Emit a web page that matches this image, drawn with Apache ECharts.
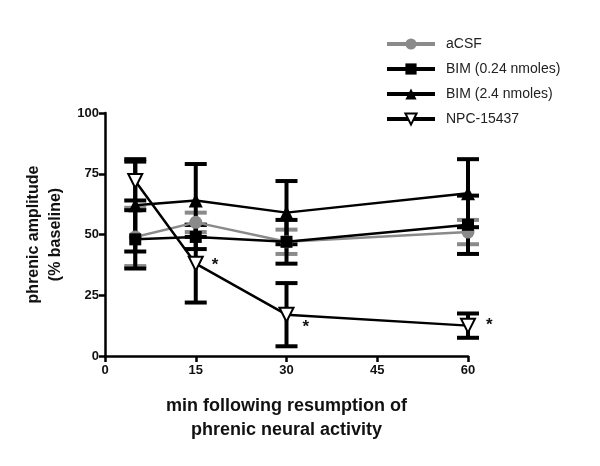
<!DOCTYPE html>
<html>
<head>
<meta charset="utf-8">
<script src="https://cdn.jsdelivr.net/npm/echarts@6/dist/echarts.min.js"></script>
<style>
  html, body { margin: 0; padding: 0; background: #fff; }
  #chart { width: 600px; height: 466px; }
</style>
</head>
<body>
<div id="chart"></div>
<script>
// time points (min)
var times = [5, 15, 30, 60];
var xTicks = [0, 15, 30, 45, 60];
// means and SEM per group
var acsf = [49, 55, 47, 51];
var acsfErr = [12, 4, 5, 5];
var bim024 = [48, 49, 47, 54];
var bim024Err = [12, 5, 9, 12];
var bim24 = [62, 64, 59, 67];
var bim24Err = [19, 15, 13, 14];
var npc = [72, 38, 17, 12.5];
var npcErr = [8, 16, 13, 5];
// which npc points are significant
var npcStar = [false, true, true, true];
var arrowAt = 7; // drug given here

var FONT = 'Liberation Sans, Arial, sans-serif';
var chart = echarts.init(document.getElementById('chart'));

var pairs = function(vals) {
  var out = [];
  for (var i = 0; i < times.length; i++) out.push([times[i], vals[i]]);
  return out;
};

// error bars as custom series
var errSeries = function(vals, errs, color) {
  var data = [];
  for (var i = 0; i < times.length; i++) {
    data.push([times[i], vals[i] - errs[i], vals[i] + errs[i]]);
  }
  return {
    type: 'custom',
    silent: true,
    z: 1,
    data: data,
    renderItem: function(params, api) {
      var lo = api.coord([api.value(0), api.value(1)]);
      var hi = api.coord([api.value(0), api.value(2)]);
      var half = 11;
      var style = { stroke: color, lineWidth: 4 };
      return {
        type: 'group',
        children: [
          { type: 'line', shape: { x1: lo[0], y1: lo[1], x2: hi[0], y2: hi[1] }, style: style },
          { type: 'line', shape: { x1: lo[0] - half, y1: lo[1], x2: lo[0] + half, y2: lo[1] }, style: style },
          { type: 'line', shape: { x1: hi[0] - half, y1: hi[1], x2: hi[0] + half, y2: hi[1] }, style: style }
        ]
      };
    }
  };
};

var npcData = [];
for (var i = 0; i < times.length; i++) {
  var item = { value: [times[i], npc[i]] };
  if (npcStar[i]) {
    item.label = {
      show: true, formatter: '*', position: 'right', distance: 8,
      offset: [i === 3 ? 2 : 0, i === 2 ? 13 : (i === 3 ? 0 : 2)],
      fontSize: 17, fontWeight: 'bold', color: '#111', fontFamily: FONT
    };
  }
  npcData.push(item);
}

var option = {
  backgroundColor: '#fff',
  animation: false,
  grid: { left: 105, right: 132, top: 113, bottom: 110 },
  legend: {
    orient: 'vertical',
    left: 380,
    top: 32,
    itemWidth: 48,
    itemHeight: 14,
    itemGap: 11,
    data: ['aCSF', 'BIM (0.24 nmoles)', 'BIM (2.4 nmoles)', 'NPC-15437'],
    lineStyle: { width: 4 },
    textStyle: { fontSize: 14, color: '#222', fontFamily: FONT, padding: [0, 0, 0, 6] }
  },
  xAxis: {
    type: 'value',
    min: 0, max: 60, interval: 15,
    name: 'min following resumption of\nphrenic neural activity',
    nameLocation: 'middle',
    nameGap: 38,
    nameTextStyle: { fontSize: 18, fontWeight: 'bold', color: '#111', fontFamily: FONT, lineHeight: 24 },
    axisLine: { lineStyle: { color: '#000', width: 2.5 } },
    axisTick: { length: 6, lineStyle: { color: '#000', width: 2.5 } },
    axisLabel: {
      fontSize: 13, fontWeight: 'bold', color: '#111', fontFamily: FONT, margin: 8,
      formatter: function(v) { return xTicks.indexOf(v) >= 0 ? String(v) : ''; }
    },
    splitLine: { show: false }
  },
  yAxis: {
    type: 'value',
    min: 0, max: 100, interval: 25,
    name: 'phrenic amplitude\n(% baseline)',
    nameLocation: 'middle',
    nameGap: 38,
    nameTextStyle: { fontSize: 16, fontWeight: 'bold', color: '#111', fontFamily: FONT, lineHeight: 22 },
    axisLine: { show: true, lineStyle: { color: '#000', width: 2.5 } },
    axisTick: { show: true, length: 6, lineStyle: { color: '#000', width: 2.5 } },
    axisLabel: { fontSize: 13, fontWeight: 'bold', color: '#111', fontFamily: FONT, margin: 6 },
    splitLine: { show: false }
  },
  series: [
    errSeries(acsf, acsfErr, '#8a8a8a'),
    errSeries(bim024, bim024Err, '#000'),
    errSeries(bim24, bim24Err, '#000'),
    errSeries(npc, npcErr, '#000'),
    {
      name: 'aCSF', type: 'line', z: 3,
      data: pairs(acsf),
      symbol: 'circle', symbolSize: 13,
      lineStyle: { color: '#8a8a8a', width: 2.5 },
      itemStyle: { color: '#8a8a8a' }
    },
    {
      name: 'BIM (0.24 nmoles)', type: 'line', z: 4,
      data: pairs(bim024),
      symbol: 'rect', symbolSize: 12,
      lineStyle: { color: '#000', width: 2.5 },
      itemStyle: { color: '#000' }
    },
    {
      name: 'BIM (2.4 nmoles)', type: 'line', z: 4,
      data: pairs(bim24),
      symbol: 'triangle', symbolSize: 14,
      lineStyle: { color: '#000', width: 2.5 },
      itemStyle: { color: '#000' }
    },
    {
      name: 'NPC-15437', type: 'line', z: 5,
      data: npcData,
      symbol: 'triangle', symbolSize: 14, symbolRotate: 180,
      lineStyle: { color: '#000', width: 2.5 },
      itemStyle: { color: '#fff', borderColor: '#000', borderWidth: 2 }
    }
  ]
};

chart.setOption(option);

// down arrow marking injection time
var top = chart.convertToPixel({ xAxisIndex: 0, yAxisIndex: 0 }, [arrowAt, 100]);
var ax = top[0], ay0 = top[1] - 8, ay1 = top[1] + 37;
chart.setOption({
  graphic: [{
    type: 'group',
    children: [
      { type: 'line', shape: { x1: ax, y1: ay0, x2: ax, y2: ay1 }, style: { stroke: '#000', lineWidth: 4 } },
      { type: 'polyline', shape: { points: [[ax - 11, ay1 - 14], [ax, ay1], [ax + 11, ay1 - 14]] },
        style: { stroke: '#000', lineWidth: 4, fill: null } }
    ]
  }]
});
</script>
</body>
</html>
